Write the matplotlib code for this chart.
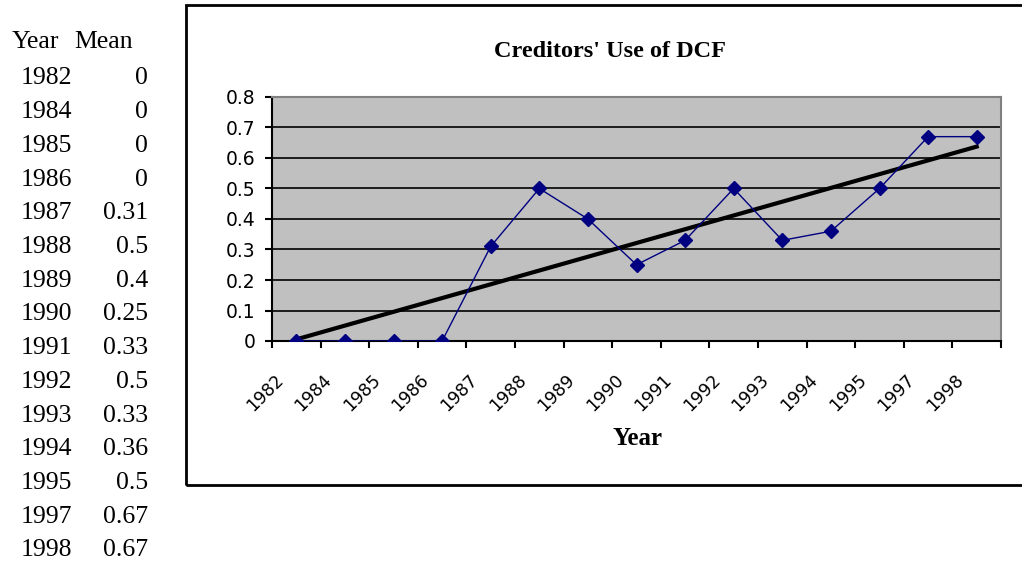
import numpy as np
import matplotlib.pyplot as plt
import matplotlib.transforms as mtransforms
from matplotlib.patches import Rectangle

years = ['1982', '1984', '1985', '1986', '1987', '1988', '1989', '1990',
         '1991', '1992', '1993', '1994', '1995', '1997', '1998']
mean = [0, 0, 0, 0, 0.31, 0.5, 0.4, 0.25, 0.33, 0.5, 0.33, 0.36, 0.5, 0.67, 0.67]
mean_text = ['0', '0', '0', '0', '0.31', '0.5', '0.4', '0.25', '0.33', '0.5',
             '0.33', '0.36', '0.5', '0.67', '0.67']

W, H = 1022, 562
fig = plt.figure(figsize=(W / 100, H / 100), dpi=100)

# left table
serif = 'Liberation Serif'
fs = 18.5
fig.text(12 / W, 1 - 48 / H, 'Year', family=serif, fontsize=fs, va='baseline', ha='left')
fig.text(133 / W, 1 - 48 / H, 'Mean', family=serif, fontsize=fs, va='baseline', ha='right')
for i, (yr, mt) in enumerate(zip(years, mean_text)):
    yy = 1 - (84.5 + i * 33.7) / H
    fig.text(21 / W, yy, yr, family=serif, fontsize=fs, va='baseline', ha='left')
    fig.text(148 / W, yy, mt, family=serif, fontsize=fs, va='baseline', ha='right')

# chart frame
fig.patches.append(Rectangle((186 / W, 1 - 485 / H), 1.0, 480 / H,
                             transform=fig.transFigure, fill=False,
                             edgecolor='black', linewidth=2, zorder=0))

ax = fig.add_axes([272 / W, 1 - 341 / H, 729 / W, 244 / H])
ax.set_facecolor('#c0c0c0')

x = np.arange(len(years)) + 0.5
ax.plot(x, mean, color='#000080', linewidth=1, marker='D', markersize=7,
        markerfacecolor='#000080', markeredgecolor='#000080', zorder=3)

# linear trendline
idx = np.arange(1, len(years) + 1)
k, b = np.polyfit(idx, mean, 1)
ax.plot(x, k * idx + b, color='black', linewidth=3, zorder=2)

ax.set_xlim(0, len(years))
ax.set_ylim(0, 0.8)
ax.set_yticks(np.arange(0, 0.81, 0.1))
ax.set_yticklabels(['0', '0.1', '0.2', '0.3', '0.4', '0.5', '0.6', '0.7', '0.8'],
                   family='DejaVu Sans', fontsize=13.5)
for yv in np.arange(0.1, 0.75, 0.1):
    ax.axhline(yv, color='black', linewidth=1.2, zorder=1)

ax.set_xticks(np.arange(0, len(years) + 1))
ax.set_xticklabels([])
ax.set_xticks(x, minor=True)
ax.set_xticklabels(years, minor=True, rotation=45, ha='right', va='center',
                   rotation_mode='anchor', family='DejaVu Sans', fontsize=12.5)
ax.tick_params(axis='x', which='minor', length=0, pad=0)
ax.tick_params(axis='both', which='major', direction='out', length=5, width=1.5, color='black')
ax.tick_params(axis='y', pad=7)
offset = mtransforms.ScaledTranslation(-16 / 100, -36 / 100, fig.dpi_scale_trans)
for lab in ax.get_xticklabels(minor=True):
    lab.set_transform(lab.get_transform() + offset)

for s in ['left', 'bottom']:
    ax.spines[s].set_color('black')
    ax.spines[s].set_linewidth(1.5)
for s in ['top', 'right']:
    ax.spines[s].set_color('#808080')
    ax.spines[s].set_linewidth(1.5)

fig.text(610 / W, 1 - 57 / H, "Creditors' Use of DCF", family=serif,
         fontweight='bold', fontsize=17.5, ha='center', va='baseline')
fig.text(637 / W, 1 - 445 / H, 'Year', family=serif, fontweight='bold',
         fontsize=18, ha='center', va='baseline')

fig.savefig('out.png', dpi=100)
